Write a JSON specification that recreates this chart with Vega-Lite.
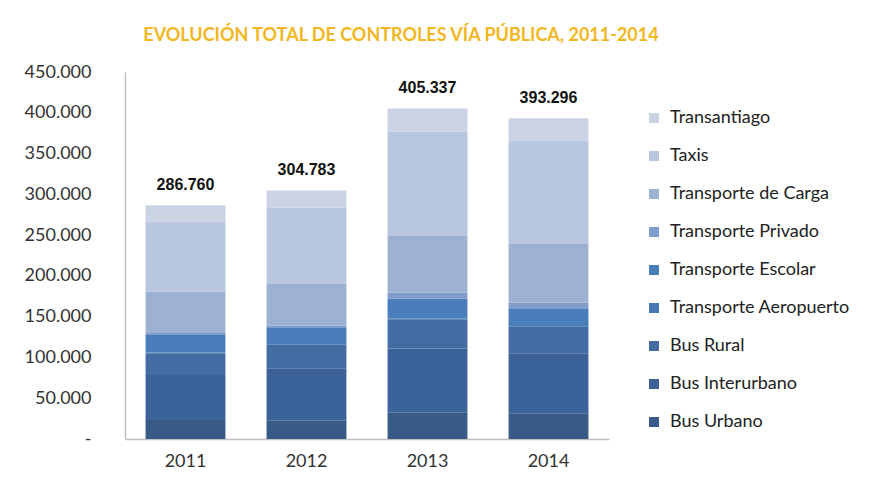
{
  "$schema": "https://vega.github.io/schema/vega-lite/v6.json",
  "autosize": {"type": "none"},
  "width": 484,
  "height": 367,
  "padding": {"left": 125, "top": 72, "right": 273, "bottom": 52},
  "background": "white",
  "config": {
    "locale": {"number": {"decimal": ",", "thousands": ".", "grouping": [3], "currency": ["$", ""]}},
    "view": {"stroke": null},
    "font": "Lato"
  },
  "title": {
    "text": "EVOLUCIÓN TOTAL DE CONTROLES VÍA PÚBLICA, 2011-2014",
    "font": "Lato",
    "fontSize": 18,
    "fontWeight": "bold",
    "color": "#f2b61e",
    "anchor": "middle",
    "dx": 34,
    "offset": 18
  },
  "datasets": {
    "segs": [
      {"year": "2011", "cat": "Bus Urbano", "orden": 1, "value": 23300},
      {"year": "2011", "cat": "Bus Interurbano", "orden": 2, "value": 55100},
      {"year": "2011", "cat": "Bus Rural", "orden": 3, "value": 26600},
      {"year": "2011", "cat": "Transporte Aeropuerto", "orden": 4, "value": 1000},
      {"year": "2011", "cat": "Transporte Escolar", "orden": 5, "value": 21500},
      {"year": "2011", "cat": "Transporte Privado", "orden": 6, "value": 2500},
      {"year": "2011", "cat": "Transporte de Carga", "orden": 7, "value": 51000},
      {"year": "2011", "cat": "Taxis", "orden": 8, "value": 85300},
      {"year": "2011", "cat": "Transantiago", "orden": 9, "value": 20460},
      {"year": "2012", "cat": "Bus Urbano", "orden": 1, "value": 22400},
      {"year": "2012", "cat": "Bus Interurbano", "orden": 2, "value": 64200},
      {"year": "2012", "cat": "Bus Rural", "orden": 3, "value": 28600},
      {"year": "2012", "cat": "Transporte Aeropuerto", "orden": 4, "value": 1000},
      {"year": "2012", "cat": "Transporte Escolar", "orden": 5, "value": 20700},
      {"year": "2012", "cat": "Transporte Privado", "orden": 6, "value": 2100},
      {"year": "2012", "cat": "Transporte de Carga", "orden": 7, "value": 51000},
      {"year": "2012", "cat": "Taxis", "orden": 8, "value": 94000},
      {"year": "2012", "cat": "Transantiago", "orden": 9, "value": 20783},
      {"year": "2013", "cat": "Bus Urbano", "orden": 1, "value": 32300},
      {"year": "2013", "cat": "Bus Interurbano", "orden": 2, "value": 78800},
      {"year": "2013", "cat": "Bus Rural", "orden": 3, "value": 35600},
      {"year": "2013", "cat": "Transporte Aeropuerto", "orden": 4, "value": 1000},
      {"year": "2013", "cat": "Transporte Escolar", "orden": 5, "value": 24700},
      {"year": "2013", "cat": "Transporte Privado", "orden": 6, "value": 6900},
      {"year": "2013", "cat": "Transporte de Carga", "orden": 7, "value": 69500},
      {"year": "2013", "cat": "Taxis", "orden": 8, "value": 127800},
      {"year": "2013", "cat": "Transantiago", "orden": 9, "value": 28737},
      {"year": "2014", "cat": "Bus Urbano", "orden": 1, "value": 31500},
      {"year": "2014", "cat": "Bus Interurbano", "orden": 2, "value": 73500},
      {"year": "2014", "cat": "Bus Rural", "orden": 3, "value": 32600},
      {"year": "2014", "cat": "Transporte Aeropuerto", "orden": 4, "value": 1000},
      {"year": "2014", "cat": "Transporte Escolar", "orden": 5, "value": 21600},
      {"year": "2014", "cat": "Transporte Privado", "orden": 6, "value": 7300},
      {"year": "2014", "cat": "Transporte de Carga", "orden": 7, "value": 71500},
      {"year": "2014", "cat": "Taxis", "orden": 8, "value": 127400},
      {"year": "2014", "cat": "Transantiago", "orden": 9, "value": 26896}
    ],
    "totals": [
      {"year": "2011", "total": 286760},
      {"year": "2012", "total": 304783},
      {"year": "2013", "total": 405337},
      {"year": "2014", "total": 393296}
    ]
  },
  "encoding": {
    "x": {
      "field": "year",
      "type": "nominal",
      "scale": {"paddingInner": 0.34, "paddingOuter": 0.17},
      "axis": {
        "title": null,
        "labelAngle": 0,
        "labelFontSize": 18,
        "labelColor": "#333333",
        "labelFont": "Lato",
        "labelPadding": 13,
        "ticks": false,
        "domainColor": "#bfbfbf",
        "domainWidth": 1.5
      }
    }
  },
  "layer": [
    {
      "data": {"name": "segs"},
      "mark": {"type": "bar"},
      "encoding": {
        "y": {
          "field": "value",
          "type": "quantitative",
          "aggregate": "sum",
          "stack": "zero",
          "scale": {"domain": [0, 450000], "nice": false},
          "axis": {
            "title": null,
            "values": [0, 50000, 100000, 150000, 200000, 250000, 300000, 350000, 400000, 450000],
            "format": ",.0f",
            "labelExpr": "datum.value === 0 ? '-' : datum.label",
            "grid": false,
            "ticks": false,
            "labelFontSize": 18,
            "labelFont": "Lato",
            "labelColor": "#333333",
            "labelPadding": 34,
            "domainColor": "#bfbfbf",
            "domainWidth": 1.5
          }
        },
        "order": {"field": "orden", "type": "quantitative", "sort": "ascending"},
        "color": {
          "field": "cat",
          "type": "nominal",
          "scale": {
            "domain": ["Transantiago", "Taxis", "Transporte de Carga", "Transporte Privado", "Transporte Escolar", "Transporte Aeropuerto", "Bus Rural", "Bus Interurbano", "Bus Urbano"],
            "range": ["#cad2e4", "#b8c6df", "#9db1d3", "#7f9ccb", "#4a7ebb", "#4778b3", "#436ca2", "#3c6399", "#375a87"]
          },
          "legend": {
            "title": null,
            "orient": "none",
            "legendX": 520,
            "legendY": 37,
            "symbolType": "square",
            "symbolSize": 100,
            "symbolStrokeWidth": 0,
            "labelFontSize": 18,
            "labelFont": "Lato",
            "labelColor": "#222222",
            "labelOffset": 7,
            "labelLimit": 300,
            "rowPadding": 20
          }
        }
      }
    },
    {
      "data": {"name": "totals"},
      "mark": {"type": "text", "font": "Liberation Sans", "fontWeight": "bold", "fontSize": 16, "color": "#111111", "dy": -20},
      "encoding": {
        "y": {"field": "total", "type": "quantitative"},
        "text": {"field": "total", "type": "quantitative", "format": ",.0f"}
      }
    }
  ]
}
